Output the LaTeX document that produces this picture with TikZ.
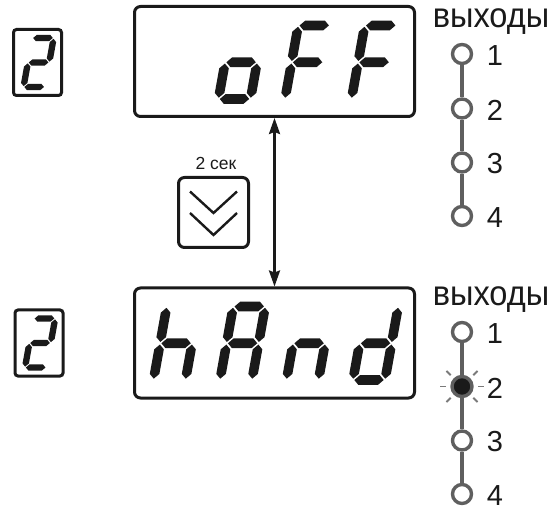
\documentclass[tikz,border=0pt]{standalone}
\usepackage{fontspec}
\setmainfont{Liberation Sans}
\usetikzlibrary{arrows.meta}
\definecolor{segc}{HTML}{1A1A1A}
\definecolor{ringc}{HTML}{5F5F5F}
\definecolor{rayc}{HTML}{7A7A7A}
\def\segW{32}\def\segH{73.5}\def\segh{4.8}\def\segg{1.3}
\newcommand{\hsg}[3]{\fill[segc] ({#1+\segg},{#3}) -- ({#1+\segg+\segh},{#3+\segh}) -- ({#2-\segg-\segh},{#3+\segh}) -- ({#2-\segg},{#3}) -- ({#2-\segg-\segh},{#3-\segh}) -- ({#1+\segg+\segh},{#3-\segh}) -- cycle;}
\newcommand{\vsg}[3]{\fill[segc] ({#1},{#2+\segg}) -- ({#1+\segh},{#2+\segg+\segh}) -- ({#1+\segh},{#3-\segg-\segh}) -- ({#1},{#3-\segg}) -- ({#1-\segh},{#3-\segg-\segh}) -- ({#1-\segh},{#2+\segg+\segh}) -- cycle;}
\newcommand{\segcA}{\hsg{0}{\segW}{\segH}}
\newcommand{\segcB}{\vsg{\segW}{\segH/2}{\segH}}
\newcommand{\segcC}{\vsg{\segW}{0}{\segH/2}}
\newcommand{\segcD}{\hsg{0}{\segW}{0}}
\newcommand{\segcE}{\vsg{0}{0}{\segH/2}}
\newcommand{\segcF}{\vsg{0}{\segH/2}{\segH}}
\newcommand{\segcG}{\hsg{0}{\segW}{\segH/2}}
\newcommand{\sevdig}[4]{\begin{scope}[shift={(#1,#2)},xslant=0.18,yscale=-1,scale=#3]\foreach \s in {#4}{\csname segc\s\endcsname}\end{scope}}
\begin{document}
\begin{tikzpicture}[x=1pt,y=-1pt,
  disp/.style={draw=segc,line width=3pt,rounded corners=6pt,minimum width=280pt,minimum height=110pt,inner sep=0pt},
  smallbox/.style={draw=segc,line width=3pt,rounded corners=3pt,minimum width=48pt,minimum height=66pt,inner sep=0pt},
  btnbox/.style={draw=segc,line width=3pt,rounded corners=6pt,minimum size=70pt,inner sep=0pt},
  chev/.style={draw=segc,line width=2.4pt},
  dbl/.style={{Stealth[length=16pt,width=11pt,inset=2pt]}-{Stealth[length=16pt,width=11pt,inset=2pt]},line width=2.5pt,draw=segc},
  ring/.style={circle,draw=ringc,line width=3.4pt,minimum size=19pt,inner sep=0pt},
  ringon/.style={ring,fill=segc,minimum size=20pt},
  conn/.style={draw=ringc,line width=3.4pt},
  ray/.style={draw=rayc,line width=1.8pt},
  outt/.style={font=\fontsize{35}{40}\selectfont,inner sep=0pt,text=segc},
  numl/.style={font=\fontsize{29}{33}\selectfont,inner sep=0pt,text=segc},
  seclbl/.style={font=\fontsize{17.5}{21}\selectfont,inner sep=0pt,text=segc}]
\useasboundingbox (0,0) rectangle (552,513);
% displays
\node[disp] (top) at (274.5,61.5) {};
\node[disp] (bot) at (274.5,343) {};
\node[smallbox] (s1) at (37.5,62.5) {};
\node[smallbox] (s2) at (39,343) {};
% digits
\sevdig{218.5}{99}{1}{C,D,E,G}
\sevdig{285}{99}{1}{A,E,F,G}
\sevdig{351.5}{99}{1}{A,E,F,G}
\sevdig{153.5}{380}{1}{C,E,F,G}
\sevdig{220}{380}{1}{A,B,C,E,F,G}
\sevdig{286.5}{380}{1}{C,E,G}
\sevdig{353}{380}{1}{B,C,D,E,G}
\sevdig{23.5}{87}{0.667}{A,B,G,E,D}
\sevdig{25}{367.5}{0.667}{A,B,G,E,D}
% arrow
\draw[dbl] (top.south) -- (bot.north);
% button
\node[btnbox] (btn) at (213.5,212.5) {};
\draw[chev] ([shift={(-23.5,-21)}]btn.center) -- ([shift={(0,0.5)}]btn.center) -- ([shift={(23.5,-21)}]btn.center);
\draw[chev] ([shift={(-23.5,0.5)}]btn.center) -- ([shift={(0,22.5)}]btn.center) -- ([shift={(23.5,0.5)}]btn.center);
\node[seclbl] (sec) at (216,163) {2 сек};
% outputs top
\node[outt,anchor=base] (vy1) at (491,28) {\scalebox{0.93}[1]{выходы}};
\node[ring] (t1) at (462,54) {};
\node[ring] (t2) at (462,108.5) {};
\node[ring] (t3) at (462,162.5) {};
\node[ring] (t4) at (462,216) {};
\draw[conn] (t1) -- (t2);
\draw[conn] (t2) -- (t3);
\draw[conn] (t3) -- (t4);
\node[numl] (tn1) at (495,55.5) {1};
\node[numl] (tn2) at (495,110) {2};
\node[numl] (tn3) at (495,164) {3};
\node[numl] (tn4) at (495,217.5) {4};
% outputs bottom
\node[outt,anchor=base] (vy2) at (491,306) {\scalebox{0.93}[1]{выходы}};
\node[ring] (b1) at (462,332) {};
\node[ringon] (b2) at (462,386.5) {};
\node[ring] (b3) at (462,440.5) {};
\node[ring] (b4) at (462,494) {};
\draw[conn] (b1) -- (b2);
\draw[conn] (b2) -- (b3);
\draw[conn] (b3) -- (b4);
\foreach \a in {0,45,135,180,225,315} \draw[ray] (b2.center) ++(\a:16) -- ++(\a:6);
\node[numl] (bn1) at (495,333.5) {1};
\node[numl] (bn2) at (495,388) {2};
\node[numl] (bn3) at (495,442) {3};
\node[numl] (bn4) at (495,495.5) {4};
\end{tikzpicture}
\end{document}
